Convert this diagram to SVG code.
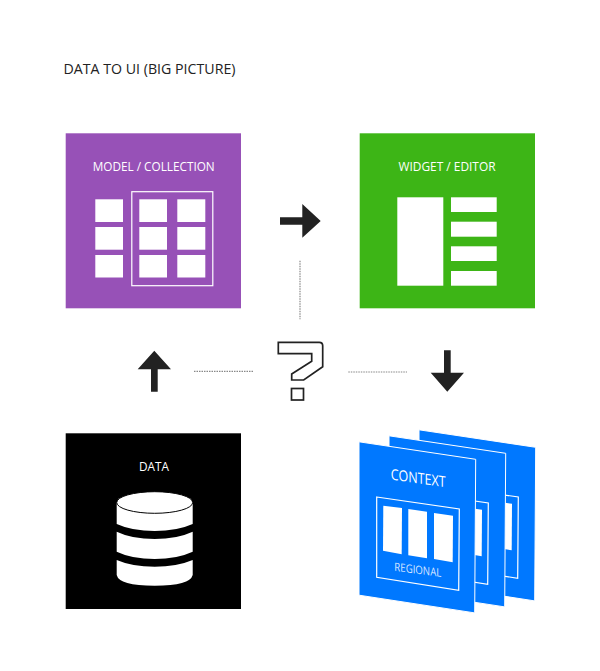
<svg xmlns="http://www.w3.org/2000/svg" xmlns:xlink="http://www.w3.org/1999/xlink" width="600" height="671" viewBox="0 0 600 671">
<style>
text{font-family:"Open Sans","Noto Sans","Liberation Sans",sans-serif}
.lbl{fill:#fff;font-size:12.500px;text-anchor:middle}
.w{fill:#fff}
.arrow{fill:#222}
.dot{fill:none;stroke:#888;stroke-width:1.200;stroke-dasharray:1.500 1}
.sheet{fill:#0078ff;stroke:#fff;stroke-width:1}
.frame{fill:none;stroke:#fff;stroke-width:1.200}
.q{fill:#fff;stroke:#222;stroke-width:1.700}
</style>
<defs>
<path id="sh" class="sheet" d="M359 441.800L475.700 459.300L474.700 612.900L359 595.200Z"/>
<path id="fr" class="frame" d="M376.700 497L459.300 509L458.700 590.300L376.700 577.300Z"/>
<path id="c3" class="w" d="M434 513L453 515.700L452.700 562.300L434 559Z"/>
</defs>
<rect width="600" height="671" fill="#fff"/>
<text id="title" x="63.500" y="74" font-size="14.500" fill="#222" textLength="172" lengthAdjust="spacingAndGlyphs">DATA TO UI (BIG PICTURE)</text>
<g id="connectors">
<path class="arrow" d="M280 217.300H302.300V204L320.700 221L302.300 237.700V224.700H280Z"/>
<path class="arrow" d="M154.300 350.700L171 369.300H157.700V391.700H151V369.300H137.700Z"/>
<path class="arrow" d="M447.300 391.700L430.700 372.700H444V350.300H450.700V372.700H464Z"/>
<path class="dot" d="M300 260.700V319.300"/>
<path class="dot" d="M194 371.300H253"/>
<path class="dot" d="M348.300 372H407"/>
</g>
<g id="model">
<rect x="65.700" y="133.300" width="175.300" height="175" fill="#9751b7"/>
<text class="lbl" x="153.700" y="170.500" textLength="122" lengthAdjust="spacingAndGlyphs">MODEL / COLLECTION</text>
<rect class="frame" x="131.800" y="191.700" width="81" height="94"/>
<g class="w">
<rect x="95.300" y="199.300" width="27.700" height="22.700"/><rect x="95.300" y="227" width="27.700" height="22.700"/><rect x="95.300" y="255" width="27.700" height="22.500"/>
<rect x="139.300" y="199.300" width="27.700" height="22.700"/><rect x="139.300" y="227" width="27.700" height="22.700"/><rect x="139.300" y="255" width="27.700" height="22.500"/>
<rect x="177.300" y="199.300" width="28" height="22.700"/><rect x="177.300" y="227" width="28" height="22.700"/><rect x="177.300" y="255" width="28" height="22.500"/>
</g>
</g>
<g id="widget">
<rect x="359.700" y="133.300" width="175.300" height="175" fill="#3db516"/>
<text class="lbl" x="447" y="170.500" textLength="97" lengthAdjust="spacingAndGlyphs">WIDGET / EDITOR</text>
<g class="w">
<rect x="397.300" y="197.300" width="46" height="88.400"/>
<rect x="451" y="197.300" width="45.700" height="14.700"/><rect x="451" y="221.700" width="45.700" height="15"/><rect x="451" y="246.300" width="45.700" height="14.700"/><rect x="451" y="271" width="45.700" height="14.700"/>
</g>
</g>
<g id="question">
<path class="q" d="M278.300 342.300H319.300Q322.700 342.300 322.700 345.700V366.700L303.700 380H291.700V374L311.700 361.300V353.700H278.300Z"/>
<rect class="q" x="291.500" y="388.500" width="12" height="11.500"/>
</g>
<g id="data">
<rect x="65.700" y="433.300" width="175.300" height="175.700" fill="#000"/>
<text class="lbl" x="154" y="471" textLength="30" lengthAdjust="spacingAndGlyphs">DATA</text>
<g class="w">
<path d="M116.700 503V524Q132 531 154.700 531Q177 531 192.700 524V503Z"/>
<path d="M116.700 531.700V551.700Q132 559 154.700 559Q177 559 192.700 551.700V531.700Q177 539 154.700 539Q132 539 116.700 531.700Z"/>
<path d="M116.700 560V575Q119 585.700 154.700 585.700Q190 585.700 192.700 575V560Q177 566.700 154.700 566.700Q132 566.700 116.700 560Z"/>
<ellipse cx="154.700" cy="502.500" rx="38" ry="10.800" stroke="#000" stroke-width="1"/>
</g>
</g>
<g id="context">
<g transform="translate(60 -12)"><use href="#sh" xlink:href="#sh"/><g transform="translate(-1 0)"><use href="#fr" xlink:href="#fr"/><use href="#c3" xlink:href="#c3"/></g></g>
<g transform="translate(30 -6)"><use href="#sh" xlink:href="#sh"/><g transform="translate(-1 0)"><use href="#fr" xlink:href="#fr"/><use href="#c3" xlink:href="#c3"/></g></g>
<use href="#sh" xlink:href="#sh"/>
<use href="#fr" xlink:href="#fr"/>
<path class="w" d="M383.300 505.700L402 508L401.700 554.300L383 550.700Z"/>
<path class="w" d="M408.300 509L427 511.700L427 558.300L408.300 555.300Z"/>
<use href="#c3" xlink:href="#c3"/>
<text fill="#fff" font-size="15" transform="matrix(1 0.14 0 1 390.700 479.500)" textLength="55" lengthAdjust="spacingAndGlyphs">CONTEXT</text>
<text fill="#fff" fill-opacity="0.85" font-size="11.500" transform="matrix(1 0.13 0 1 394.300 570.800)" textLength="47" lengthAdjust="spacingAndGlyphs">REGIONAL</text>
</g>
</svg>
